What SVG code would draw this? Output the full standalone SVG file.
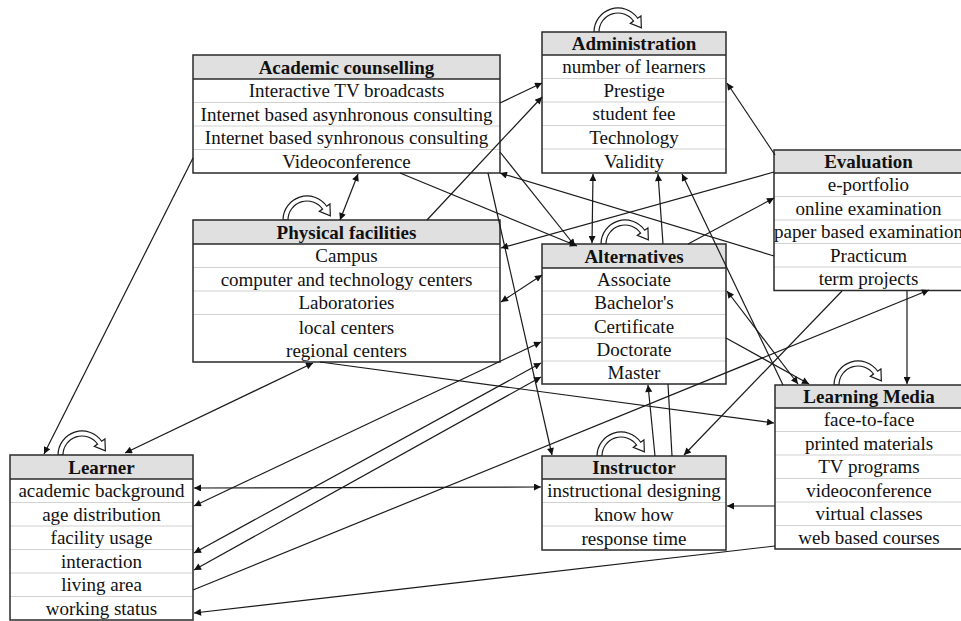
<svg xmlns="http://www.w3.org/2000/svg" xmlns:xlink="http://www.w3.org/1999/xlink" width="961" height="621" viewBox="0 0 961 621">
<style>
.bx{fill:none;stroke:#2a2a2a;stroke-width:1.5}
.bg{fill:#fff}
.hd{fill:#e0e0e0}
.hl{stroke:#2a2a2a;stroke-width:1.5}
.sep{stroke:#d2d2d2;stroke-width:1.2}
text{font-family:"Liberation Serif","Times New Roman",serif;font-size:19px;fill:#111;text-anchor:middle}
.h{font-weight:bold}
.c{stroke:#1a1a1a;stroke-width:1.2;fill:none}
.loop{fill:#fff;stroke:#1a1a1a;stroke-width:1.2}
</style>
<defs>
<marker id="ah" viewBox="0 0 10 10" refX="10" refY="5" markerWidth="9" markerHeight="7" markerUnits="userSpaceOnUse" orient="auto-start-reverse"><path d="M0,0 L10,5 L0,10 z" fill="#111"/></marker>
<path id="lp" class="loop" d="M0,0 A24,24 0 0 1 43.66,-13.77 L46.93,-16.07 L47.35,-4.15 L36.29,-8.61 L39.56,-10.9 A19,19 0 0 0 5,0 Z"/>
</defs>

<g id="academic-counselling">
<rect class="bg" x="193" y="55" width="307" height="118"/>
<rect class="hd" x="193" y="55" width="307" height="24"/>
<line class="sep" x1="193" y1="102.5" x2="500" y2="102.5"/>
<line class="sep" x1="193" y1="126" x2="500" y2="126"/>
<line class="sep" x1="193" y1="149.5" x2="500" y2="149.5"/>
<line class="hl" x1="193" y1="79" x2="500" y2="79"/>
<rect class="bx" x="193" y="55" width="307" height="118"/>
<text class="h" x="346.5" y="73.5">Academic counselling</text>
<text x="346.5" y="97">Interactive TV broadcasts</text>
<text x="346.5" y="120.5">Internet based asynhronous consulting</text>
<text x="346.5" y="144">Internet based synhronous consulting</text>
<text x="346.5" y="167.5">Videoconference</text>
</g>

<g id="administration">
<use xlink:href="#lp" x="594" y="32"/>
<rect class="bg" x="542" y="32" width="184" height="141"/>
<rect class="hd" x="542" y="32" width="184" height="23"/>
<line class="sep" x1="542" y1="78.5" x2="726" y2="78.5"/>
<line class="sep" x1="542" y1="102" x2="726" y2="102"/>
<line class="sep" x1="542" y1="125.5" x2="726" y2="125.5"/>
<line class="sep" x1="542" y1="149" x2="726" y2="149"/>
<line class="hl" x1="542" y1="55" x2="726" y2="55"/>
<rect class="bx" x="542" y="32" width="184" height="141"/>
<text class="h" x="634" y="49.5">Administration</text>
<text x="634" y="73">number of learners</text>
<text x="634" y="96.5">Prestige</text>
<text x="634" y="120">student fee</text>
<text x="634" y="143.5">Technology</text>
<text x="634" y="167.5">Validity</text>
</g>

<g id="evaluation">
<rect class="bg" x="774" y="150" width="189" height="140.5"/>
<rect class="hd" x="774" y="150" width="189" height="23"/>
<line class="sep" x1="774" y1="196.5" x2="963" y2="196.5"/>
<line class="sep" x1="774" y1="220" x2="963" y2="220"/>
<line class="sep" x1="774" y1="243.5" x2="963" y2="243.5"/>
<line class="sep" x1="774" y1="267" x2="963" y2="267"/>
<line class="hl" x1="774" y1="173" x2="963" y2="173"/>
<rect class="bx" x="774" y="150" width="189" height="140.5"/>
<text class="h" x="868.5" y="167.5">Evaluation</text>
<text x="868.5" y="191">e-portfolio</text>
<text x="868.5" y="214.5">online examination</text>
<text x="868.5" y="238">paper based examination</text>
<text x="868.5" y="261.5">Practicum</text>
<text x="868.5" y="285">term projects</text>
</g>

<g id="physical-facilities">
<use xlink:href="#lp" x="283" y="220"/>
<rect class="bg" x="193" y="220" width="307" height="142"/>
<rect class="hd" x="193" y="220" width="307" height="24"/>
<line class="sep" x1="193" y1="267.5" x2="500" y2="267.5"/>
<line class="sep" x1="193" y1="291" x2="500" y2="291"/>
<line class="sep" x1="193" y1="314.5" x2="500" y2="314.5"/>
<line class="hl" x1="193" y1="244" x2="500" y2="244"/>
<rect class="bx" x="193" y="220" width="307" height="142"/>
<text class="h" x="346.5" y="238.5">Physical facilities</text>
<text x="346.5" y="262">Campus</text>
<text x="346.5" y="285.5">computer and technology centers</text>
<text x="346.5" y="309">Laboratories</text>
<text x="346.5" y="333.5">local centers</text>
<text x="346.5" y="356.5">regional centers</text>
</g>

<g id="alternatives">
<use xlink:href="#lp" x="601" y="244"/>
<rect class="bg" x="542" y="244" width="184" height="140"/>
<rect class="hd" x="542" y="244" width="184" height="24"/>
<line class="sep" x1="542" y1="291" x2="726" y2="291"/>
<line class="sep" x1="542" y1="314.5" x2="726" y2="314.5"/>
<line class="sep" x1="542" y1="338" x2="726" y2="338"/>
<line class="sep" x1="542" y1="361" x2="726" y2="361"/>
<line class="hl" x1="542" y1="268" x2="726" y2="268"/>
<rect class="bx" x="542" y="244" width="184" height="140"/>
<text class="h" x="634" y="262.5">Alternatives</text>
<text x="634" y="285.5">Associate</text>
<text x="634" y="309">Bachelor's</text>
<text x="634" y="332.5">Certificate</text>
<text x="634" y="355.5">Doctorate</text>
<text x="634" y="378.5">Master</text>
</g>

<g id="instructor">
<use xlink:href="#lp" x="597" y="456"/>
<rect class="bg" x="542" y="456" width="184" height="94"/>
<rect class="hd" x="542" y="456" width="184" height="23"/>
<line class="sep" x1="542" y1="502.5" x2="726" y2="502.5"/>
<line class="sep" x1="542" y1="526" x2="726" y2="526"/>
<line class="hl" x1="542" y1="479" x2="726" y2="479"/>
<rect class="bx" x="542" y="456" width="184" height="94"/>
<text class="h" x="634" y="473.5">Instructor</text>
<text x="634" y="497">instructional designing</text>
<text x="634" y="520.5">know how</text>
<text x="634" y="544.5">response time</text>
</g>

<g id="learning-media">
<use xlink:href="#lp" x="834" y="385"/>
<rect class="bg" x="775" y="385" width="188" height="164"/>
<rect class="hd" x="775" y="385" width="188" height="23"/>
<line class="sep" x1="775" y1="431.5" x2="963" y2="431.5"/>
<line class="sep" x1="775" y1="455" x2="963" y2="455"/>
<line class="sep" x1="775" y1="478.5" x2="963" y2="478.5"/>
<line class="sep" x1="775" y1="502" x2="963" y2="502"/>
<line class="sep" x1="775" y1="525.5" x2="963" y2="525.5"/>
<line class="hl" x1="775" y1="408" x2="963" y2="408"/>
<rect class="bx" x="775" y="385" width="188" height="164"/>
<text class="h" x="869" y="402.5">Learning Media</text>
<text x="869" y="426">face-to-face</text>
<text x="869" y="449.5">printed materials</text>
<text x="869" y="473">TV programs</text>
<text x="869" y="496.5">videoconference</text>
<text x="869" y="520">virtual classes</text>
<text x="869" y="543.5">web based courses</text>
</g>

<g id="learner">
<use xlink:href="#lp" x="58" y="455"/>
<rect class="bg" x="10" y="455" width="183" height="165"/>
<rect class="hd" x="10" y="455" width="183" height="24"/>
<line class="sep" x1="10" y1="502.5" x2="193" y2="502.5"/>
<line class="sep" x1="10" y1="526" x2="193" y2="526"/>
<line class="sep" x1="10" y1="549.5" x2="193" y2="549.5"/>
<line class="sep" x1="10" y1="573" x2="193" y2="573"/>
<line class="sep" x1="10" y1="596.5" x2="193" y2="596.5"/>
<line class="hl" x1="10" y1="479" x2="193" y2="479"/>
<rect class="bx" x="10" y="455" width="183" height="165"/>
<text class="h" x="101.5" y="473.5">Learner</text>
<text x="101.5" y="497">academic background</text>
<text x="101.5" y="520.5">age distribution</text>
<text x="101.5" y="544">facility usage</text>
<text x="101.5" y="567.5">interaction</text>
<text x="101.5" y="591">living area</text>
<text x="101.5" y="614.5">working status</text>
</g>

<g id="connectors">
<line class="c" x1="193" y1="158" x2="44" y2="454" marker-end="url(#ah)"/>
<line class="c" x1="313" y1="363" x2="125" y2="453" marker-start="url(#ah)" marker-end="url(#ah)"/>
<line class="c" x1="194" y1="488" x2="541" y2="487" marker-start="url(#ah)" marker-end="url(#ah)"/>
<line class="c" x1="194" y1="506" x2="541" y2="342" marker-start="url(#ah)" marker-end="url(#ah)"/>
<line class="c" x1="194" y1="553" x2="541" y2="363" marker-start="url(#ah)" marker-end="url(#ah)"/>
<line class="c" x1="194" y1="570" x2="541" y2="377" marker-start="url(#ah)" marker-end="url(#ah)"/>
<line class="c" x1="193" y1="590" x2="929" y2="290" marker-end="url(#ah)"/>
<line class="c" x1="775" y1="546" x2="194" y2="613" marker-end="url(#ah)"/>
<line class="c" x1="775" y1="506" x2="727" y2="506" marker-end="url(#ah)"/>
<line class="c" x1="907" y1="291" x2="907" y2="384" marker-end="url(#ah)"/>
<line class="c" x1="842" y1="291" x2="684" y2="455" marker-end="url(#ah)"/>
<line class="c" x1="774" y1="172" x2="501" y2="248" marker-end="url(#ah)"/>
<line class="c" x1="774" y1="256" x2="500" y2="173" marker-end="url(#ah)"/>
<line class="c" x1="500" y1="103" x2="542" y2="83" marker-end="url(#ah)"/>
<line class="c" x1="427" y1="220" x2="542" y2="97" marker-end="url(#ah)"/>
<line class="c" x1="593" y1="174" x2="592" y2="243" marker-start="url(#ah)" marker-end="url(#ah)"/>
<line class="c" x1="663" y1="244" x2="658" y2="174" marker-end="url(#ah)"/>
<line class="c" x1="783" y1="385" x2="682" y2="174" marker-end="url(#ah)"/>
<line class="c" x1="727" y1="291" x2="798" y2="384" marker-start="url(#ah)" marker-end="url(#ah)"/>
<line class="c" x1="726" y1="338" x2="809" y2="384" marker-end="url(#ah)"/>
<line class="c" x1="688" y1="244" x2="774" y2="198" marker-end="url(#ah)"/>
<line class="c" x1="775" y1="155" x2="727" y2="83" marker-end="url(#ah)"/>
<line class="c" x1="400" y1="173" x2="577" y2="246" marker-end="url(#ah)"/>
<line class="c" x1="500" y1="152" x2="575" y2="246" marker-end="url(#ah)"/>
<line class="c" x1="488" y1="173" x2="552" y2="455" marker-end="url(#ah)"/>
<line class="c" x1="655" y1="456" x2="648" y2="385" marker-end="url(#ah)"/>
<line class="c" x1="668" y1="384" x2="672" y2="456"/>
<line class="c" x1="320" y1="362" x2="774" y2="423" marker-end="url(#ah)"/>
<line class="c" x1="501" y1="302" x2="542" y2="275" marker-start="url(#ah)" marker-end="url(#ah)"/>
<line class="c" x1="358" y1="174" x2="340" y2="220" marker-start="url(#ah)" marker-end="url(#ah)"/>
</g>
</svg>
